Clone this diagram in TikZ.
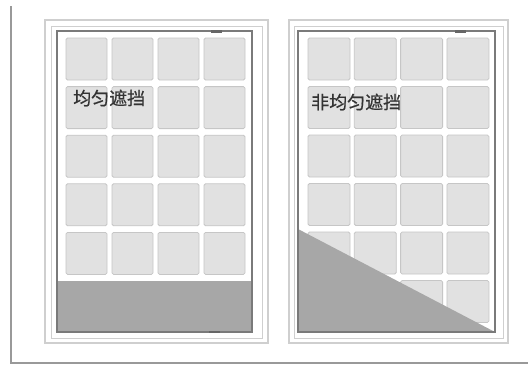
\documentclass[tikz,border=0pt]{standalone}
\usepackage{fontspec}
\newfontfamily\cjk[FakeBold=0.7]{Noto Sans CJK SC}
\definecolor{cellfill}{HTML}{E1E1E1}
\definecolor{celledge}{HTML}{C6C6C6}
\definecolor{shade}{HTML}{A7A7A7}
\definecolor{framelt}{HTML}{CFCFCF}
\definecolor{framedk}{HTML}{7A7A7A}
\definecolor{txt}{HTML}{333333}
\tikzset{
  cellbox/.style={fill=cellfill,draw=celledge,line width=0.8pt,rounded corners=1.5pt},
  outerframe/.style={draw=framelt,line width=1.4pt,fill=white},
  innerframe/.style={draw=framedk,line width=2.4pt},
  shadearea/.style={fill=shade,draw=none},
  label/.style={font=\cjk\fontsize{18}{18}\selectfont,text=txt,inner sep=0pt,anchor=west},
  border/.style={draw=black!40,line width=2.2pt},
  handle/.style={fill=black!60,draw=none}
}
\begin{document}
\begin{tikzpicture}[x=1pt,y=-1pt]
\useasboundingbox[fill=white] (0,0) rectangle (528,367);
% overall border
\draw[border] (11,6) -- (11,363) -- (528,363);
% ===== left window =====
\draw[outerframe] (45,20) rectangle (268,343);
\draw[draw=framelt,line width=0.8pt] (51,26) rectangle (262,338);
\fill[white] (57,31) rectangle (252,332);
\foreach \r in {0,...,4}{
  \foreach \c in {0,...,3}{
    \draw[cellbox] ({66+46*\c},{38+48.6*\r}) rectangle ++(41,42);
  }
}
\fill[shadearea] (57,281) rectangle (252,332);
\draw[innerframe] (57,31) rectangle (252,332);
\fill[handle] (211,30) rectangle (222,32.5);
\fill[handle] (209,330.5) rectangle (220,333);
\node[label] (t1) at (73,98) {均匀遮挡};
% ===== right window =====
\draw[outerframe] (289,20) rectangle (508,343);
\draw[draw=framelt,line width=0.8pt] (294,26) rectangle (503,338);
\fill[white] (298,31) rectangle (495,332);
\foreach \r in {0,...,5}{
  \foreach \c in {0,...,3}{
    \draw[cellbox] ({308+46.3*\c},{38+48.5*\r}) rectangle ++(42,42);
  }
}
\fill[shadearea] (298,229) -- (298,332) -- (495,332) -- cycle;
\draw[innerframe] (298,31) rectangle (495,332);
\fill[handle] (455,30) rectangle (466,32.5);
\node[label] (t2) at (311,102) {非均匀遮挡};
\end{tikzpicture}
\end{document}
